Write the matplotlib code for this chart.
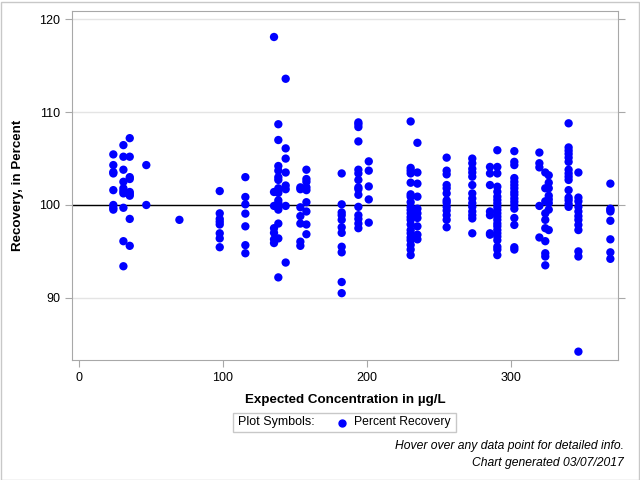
import numpy as np
import matplotlib
matplotlib.use("Agg")
import matplotlib.pyplot as plt
from matplotlib.patches import Rectangle
from matplotlib.lines import Line2D

plt.rcParams['font.family'] = ['Liberation Sans', 'DejaVu Sans']

# expected concentration (ug/L) for each group of samples
conc = [23.8, 30.8, 35.2, 46.7, 69.7, 97.7, 115.5, 135.4, 138.4, 143.5,
        153.7, 157.9, 182.4, 194.0, 201.2, 230.3, 235.0, 255.3, 273.1,
        285.4, 290.5, 302.3, 319.7, 323.8, 326.2, 340.0, 346.8, 369.0]

# percent recovery values read for each concentration group
recovery = [
    [105.45, 104.3, 103.55, 103.4, 101.6, 100.0, 99.7, 99.5],
    [106.45, 105.2, 103.8, 102.5, 101.8, 101.5, 101.25, 99.7, 96.1, 93.4],
    [107.2, 105.2, 103.0, 102.8, 101.4, 101.2, 101.0, 98.5, 95.6],
    [104.3, 100.0],
    [98.4],
    [101.5, 99.1, 98.5, 98.2, 97.9, 96.95, 96.4, 95.45],
    [103.0, 100.86, 100.07, 99.07, 97.7, 95.67, 94.8],
    [118.1, 101.4, 99.9, 97.5, 97.0, 96.3, 95.9],
    [108.7, 107.0, 104.2, 103.7, 103.0, 102.7, 101.8, 101.6, 101.3, 100.5,
     100.2, 99.9, 99.5, 98.0, 96.4, 92.2],
    [113.6, 106.1, 105.0, 103.5, 102.1, 101.7, 99.9, 93.8],
    [101.9, 101.7, 99.75, 98.8, 98.0, 96.05, 95.6],
    [103.8, 102.8, 102.5, 101.9, 101.6, 100.3, 99.3, 97.9, 96.85],
    [103.4, 100.07, 99.2, 98.9, 98.4, 97.6, 97.0, 95.5, 94.9, 91.7, 90.5],
    [108.9, 108.7, 108.4, 106.85, 103.8, 103.4, 102.7, 101.9, 101.7, 101.1,
     99.8, 98.9, 98.5, 98.0, 97.5],
    [104.7, 103.7, 102.0, 100.6, 98.1],
    [109.0, 104.0, 103.7, 103.4, 102.4, 101.15, 100.9, 100.3, 99.8, 99.46,
     99.1, 98.7, 98.4, 97.9, 97.3, 96.95, 96.5, 96.2, 95.7, 95.2, 94.6],
    [106.7, 103.5, 102.3, 100.9, 99.6, 99.1, 98.6, 97.7, 96.8, 96.3],
    [105.1, 103.7, 103.3, 102.15, 101.8, 101.25, 100.5, 100.25, 99.8, 99.4,
     98.9, 98.4, 97.6],
    [105.0, 104.5, 103.9, 103.5, 103.05, 102.15, 101.25, 100.7, 100.2, 99.8,
     99.3, 98.9, 98.55, 96.95],
    [104.1, 103.4, 102.15, 99.3, 98.9, 96.95, 96.8],
    [105.9, 104.1, 103.4, 101.97, 101.43, 100.9, 100.54, 100.18, 99.8, 99.46,
     99.1, 98.75, 98.4, 98.0, 97.7, 97.3, 96.95, 96.6, 96.2, 95.5, 95.2, 94.6],
    [105.8, 104.65, 104.3, 102.9, 102.5, 102.15, 101.8, 101.4, 101.1, 100.7,
     100.35, 100.0, 99.6, 98.6, 97.85, 95.45, 95.2],
    [105.65, 104.5, 104.05, 99.9, 96.5],
    [103.5, 101.8, 100.4, 99.1, 98.4, 97.5, 96.1, 94.8, 94.45, 93.5],
    [103.2, 102.4, 101.8, 101.0, 100.6, 100.2, 99.5, 97.3],
    [108.8, 106.2, 105.85, 105.5, 105.1, 104.65, 103.8, 103.4, 103.05, 102.7,
     101.6, 100.8, 100.5, 100.1, 99.8],
    [103.5, 100.8, 100.4, 99.8, 99.3, 98.8, 98.4, 97.85, 97.3, 95.0, 94.45, 84.2],
    [102.3, 99.6, 99.46, 99.3, 98.3, 96.3, 94.9, 94.2],
]

x = np.concatenate([[c] * len(r) for c, r in zip(conc, recovery)])
y = np.concatenate(recovery)

fig = plt.figure(figsize=(6.4, 4.8), dpi=100)
fig.patch.set_facecolor('white')
fig.add_artist(Rectangle((0.5 / 640, 0.5 / 480), 638 / 640, 478 / 480,
                         transform=fig.transFigure, fill=False,
                         edgecolor='#c8c8c8', lw=1))

ax = fig.add_axes([72 / 640, 120 / 480, 546 / 640, 349 / 480])
ax.set_xlim(-4.9, 374.3)
ax.set_ylim(83.3, 120.9)

ax.yaxis.grid(True, color='#e4e4e4', lw=1)
ax.set_axisbelow(True)
ax.axhline(100, color='black', lw=1, zorder=2)
ax.scatter(x, y, s=36, color='#0000ff', edgecolors='none', zorder=3)

ax.set_xticks([0, 100, 200, 300])
ax.set_yticks([90, 100, 110, 120])
for s in ax.spines.values():
    s.set_color('#a8a8a8')
ax.tick_params(axis='both', colors='#a8a8a8', labelcolor='black',
               labelsize=9, length=5, direction='out')
ax.tick_params(axis='y', right=True)

ax.set_xlabel('Expected Concentration in µg/L', fontsize=9.6,
              fontweight='bold', labelpad=7)
ax.set_ylabel('Recovery, in Percent', fontsize=9.6, fontweight='bold',
              labelpad=11)

# legend box
fig.add_artist(Rectangle((233 / 640, 1 - 432 / 480), 223 / 640, 19 / 480,
                         transform=fig.transFigure, fill=False,
                         edgecolor='#c8c8c8', lw=1))
fig.text(238 / 640, 1 - 422.5 / 480, 'Plot Symbols:', fontsize=9,
         va='center', ha='left')
fig.add_artist(Line2D([342 / 640], [1 - 422.5 / 480], marker='o',
                      markersize=5, color='#0000ff', ls='none',
                      transform=fig.transFigure))
fig.text(354 / 640, 1 - 422.5 / 480, 'Percent Recovery', fontsize=8.7,
         va='center', ha='left')

fig.text(624 / 640, 1 - 446 / 480, 'Hover over any data point for detailed info.',
         fontsize=8.7, style='italic', ha='right', va='center')
fig.text(624 / 640, 1 - 463 / 480, 'Chart generated 03/07/2017',
         fontsize=8.7, style='italic', ha='right', va='center')

fig.savefig('out.png', dpi=100)
